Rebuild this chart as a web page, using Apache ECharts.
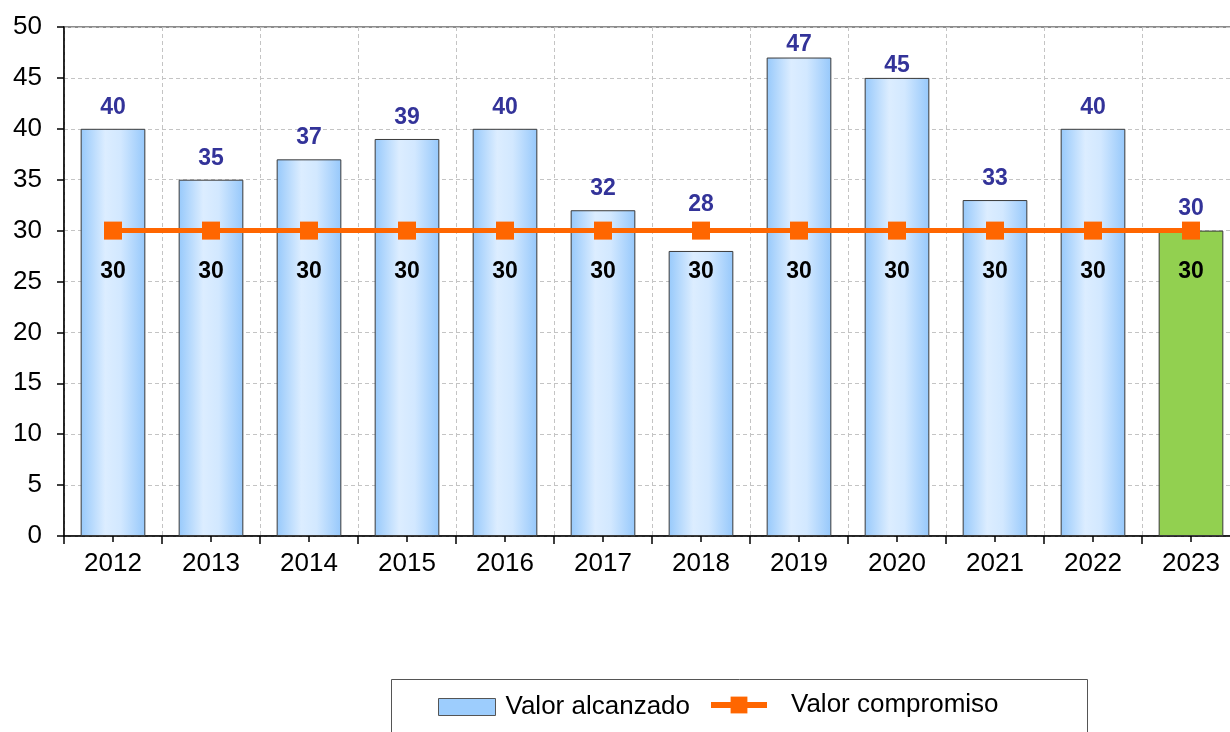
<!DOCTYPE html>
<html>
<head>
<meta charset="utf-8">
<script src="https://cdn.jsdelivr.net/npm/echarts@6/dist/echarts.min.js"></script>
<style>
html,body{margin:0;padding:0;background:#fff;}
#chart{width:1230px;height:732px;}
</style>
</head>
<body>
<div id="chart"></div>
<script>
var categories = ['2012','2013','2014','2015','2016','2017','2018','2019','2020','2021','2022','2023'];
var achieved = [40, 35, 37, 39, 40, 32, 28, 47, 45, 33, 40, 30];
var commitment = [30, 30, 30, 30, 30, 30, 30, 30, 30, 30, 30, 30];
var seriesNames = ['Valor alcanzado', 'Valor compromiso'];

var FONT = '"Liberation Sans", Arial, sans-serif';
var blueGrad = new echarts.graphic.LinearGradient(0, 0, 1, 0, [
  {offset: 0, color: '#97c9fb'},
  {offset: 0.38, color: '#dcedff'},
  {offset: 0.62, color: '#d2e8ff'},
  {offset: 1, color: '#96c8fb'}
]);
var lastIdx = achieved.length - 1;
var barData = achieved.map(function (v, i) {
  var item = {value: v};
  if (i === lastIdx) item.itemStyle = {color: '#92d050'};
  if (v < commitment[i]) item.label = {offset: [0, -25]};
  else if (v >= 45) item.label = {distance: 1};
  return item;
});

var chart = echarts.init(document.getElementById('chart'), null, {renderer: 'canvas'});
chart.setOption({
  animation: false,
  backgroundColor: '#ffffff',
  grid: {left: 64, top: 27, width: 1176, height: 509, show: true, borderColor: '#8c8c8c', borderWidth: 2,
         backgroundColor: 'transparent', containLabel: false, outerBoundsMode: 'none'},
  xAxis: [{
    type: 'category',
    data: categories,
    position: 'bottom',
    boundaryGap: true,
    axisLine: {show: true, lineStyle: {color: '#000', width: 1.5}},
    axisTick: {show: true, length: 8, lineStyle: {color: '#000', width: 1.5}},
    axisLabel: {color: '#000', fontFamily: FONT, fontSize: 26, margin: 15},
    splitLine: {show: true, interval: 0, lineStyle: {color: '#c4c4c4', type: [4, 3], width: 1}}
  }, {
    type: 'category',
    data: categories,
    position: 'top',
    offset: -509,
    boundaryGap: true,
    axisLine: {show: false},
    axisTick: {show: true, alignWithLabel: true, inside: true, length: 6, lineStyle: {color: '#000', width: 1.5}},
    axisLabel: {show: false},
    splitLine: {show: false}
  }],
  yAxis: {
    type: 'value',
    min: 0, max: 50, interval: 5,
    axisLine: {show: true, lineStyle: {color: '#000', width: 1.5}},
    axisTick: {show: true, length: 7, lineStyle: {color: '#000', width: 1.5}},
    axisLabel: {color: '#000', fontFamily: FONT, fontSize: 26, margin: 22},
    splitLine: {show: true, lineStyle: {color: '#c4c4c4', type: [4, 3], width: 1}}
  },
  legend: [{
    left: 438, top: 694, padding: 0,
    itemWidth: 57, itemHeight: 17,
    textStyle: {color: '#000', fontFamily: FONT, fontSize: 26, padding: [0, 0, 0, 5]},
    data: [
      {name: seriesNames[0], icon: 'rect', itemStyle: {color: '#9dcdfd', borderColor: '#555', borderWidth: 1}}
    ]
  }, {
    left: 708, top: 692, padding: 0,
    itemWidth: 56, itemHeight: 21,
    textStyle: {color: '#000', fontFamily: FONT, fontSize: 26, padding: [4, 0, 0, 19]},
    data: [
      {name: seriesNames[1], lineStyle: {width: 6, color: '#ff6600'}}
    ]
  }],
  graphic: [{
    type: 'rect',
    shape: {x: 391.5, y: 679.5, width: 696, height: 80},
    style: {fill: 'none', stroke: '#555', lineWidth: 1},
    silent: true
  }],
  series: [{
    name: seriesNames[0],
    type: 'bar',
    data: barData,
    barWidth: '66%',
    itemStyle: {color: blueGrad, borderColor: '#3a3a3a', borderWidth: 1},
    label: {show: true, position: 'top', distance: 10, color: '#333399', fontFamily: FONT, fontWeight: 'bold', fontSize: 23}
  }, {
    name: seriesNames[1],
    type: 'line',
    data: commitment,
    symbol: 'rect',
    symbolSize: 18,
    lineStyle: {color: '#ff6600', width: 5},
    itemStyle: {color: '#ff6600'},
    label: {show: true, position: 'bottom', distance: 21, color: '#000', fontFamily: FONT, fontWeight: 'bold', fontSize: 23},
    z: 5
  }]
});
</script>
</body>
</html>
